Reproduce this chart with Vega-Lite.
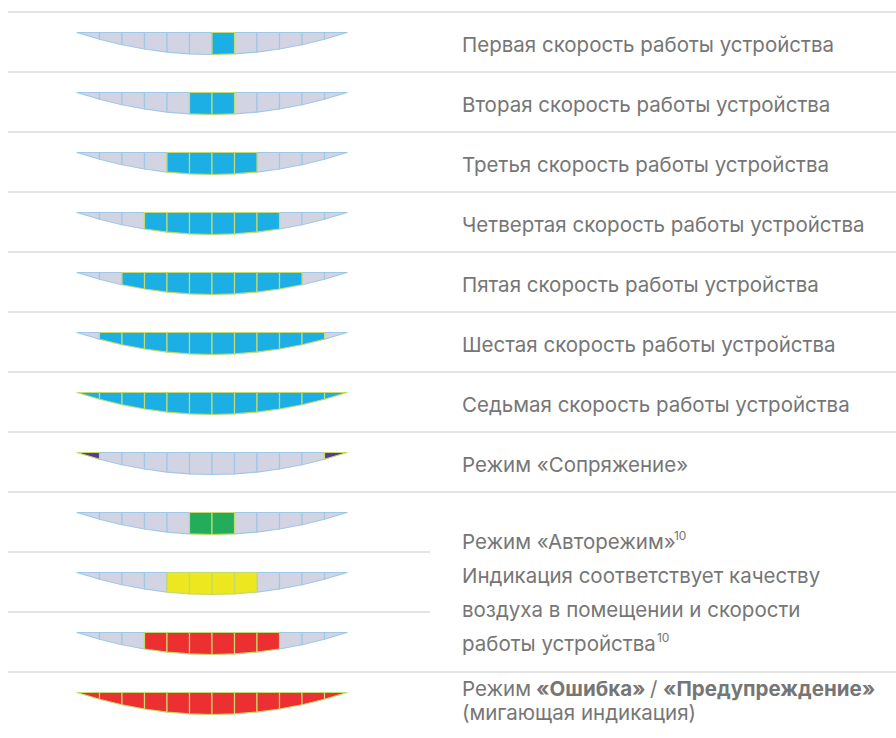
{
"$schema": "https://vega.github.io/schema/vega-lite/v6.json",
"padding": {"left": 0, "top": 11, "right": 0, "bottom": 0},
"background": "white",
"datasets": {
"cells": [
{"r":0,"s":0,"st":"off"},{"r":0,"s":1,"st":"off"},{"r":0,"s":2,"st":"off"},{"r":0,"s":3,"st":"off"},{"r":0,"s":4,"st":"off"},{"r":0,"s":5,"st":"off"},{"r":0,"s":6,"st":"blue"},{"r":0,"s":7,"st":"off"},{"r":0,"s":8,"st":"off"},{"r":0,"s":9,"st":"off"},{"r":0,"s":10,"st":"off"},{"r":0,"s":11,"st":"off"},
{"r":1,"s":0,"st":"off"},{"r":1,"s":1,"st":"off"},{"r":1,"s":2,"st":"off"},{"r":1,"s":3,"st":"off"},{"r":1,"s":4,"st":"off"},{"r":1,"s":5,"st":"blue"},{"r":1,"s":6,"st":"blue"},{"r":1,"s":7,"st":"off"},{"r":1,"s":8,"st":"off"},{"r":1,"s":9,"st":"off"},{"r":1,"s":10,"st":"off"},{"r":1,"s":11,"st":"off"},
{"r":2,"s":0,"st":"off"},{"r":2,"s":1,"st":"off"},{"r":2,"s":2,"st":"off"},{"r":2,"s":3,"st":"off"},{"r":2,"s":4,"st":"blue"},{"r":2,"s":5,"st":"blue"},{"r":2,"s":6,"st":"blue"},{"r":2,"s":7,"st":"blue"},{"r":2,"s":8,"st":"off"},{"r":2,"s":9,"st":"off"},{"r":2,"s":10,"st":"off"},{"r":2,"s":11,"st":"off"},
{"r":3,"s":0,"st":"off"},{"r":3,"s":1,"st":"off"},{"r":3,"s":2,"st":"off"},{"r":3,"s":3,"st":"blue"},{"r":3,"s":4,"st":"blue"},{"r":3,"s":5,"st":"blue"},{"r":3,"s":6,"st":"blue"},{"r":3,"s":7,"st":"blue"},{"r":3,"s":8,"st":"blue"},{"r":3,"s":9,"st":"off"},{"r":3,"s":10,"st":"off"},{"r":3,"s":11,"st":"off"},
{"r":4,"s":0,"st":"off"},{"r":4,"s":1,"st":"off"},{"r":4,"s":2,"st":"blue"},{"r":4,"s":3,"st":"blue"},{"r":4,"s":4,"st":"blue"},{"r":4,"s":5,"st":"blue"},{"r":4,"s":6,"st":"blue"},{"r":4,"s":7,"st":"blue"},{"r":4,"s":8,"st":"blue"},{"r":4,"s":9,"st":"blue"},{"r":4,"s":10,"st":"off"},{"r":4,"s":11,"st":"off"},
{"r":5,"s":0,"st":"off"},{"r":5,"s":1,"st":"blue"},{"r":5,"s":2,"st":"blue"},{"r":5,"s":3,"st":"blue"},{"r":5,"s":4,"st":"blue"},{"r":5,"s":5,"st":"blue"},{"r":5,"s":6,"st":"blue"},{"r":5,"s":7,"st":"blue"},{"r":5,"s":8,"st":"blue"},{"r":5,"s":9,"st":"blue"},{"r":5,"s":10,"st":"blue"},{"r":5,"s":11,"st":"off"},
{"r":6,"s":0,"st":"blue"},{"r":6,"s":1,"st":"blue"},{"r":6,"s":2,"st":"blue"},{"r":6,"s":3,"st":"blue"},{"r":6,"s":4,"st":"blue"},{"r":6,"s":5,"st":"blue"},{"r":6,"s":6,"st":"blue"},{"r":6,"s":7,"st":"blue"},{"r":6,"s":8,"st":"blue"},{"r":6,"s":9,"st":"blue"},{"r":6,"s":10,"st":"blue"},{"r":6,"s":11,"st":"blue"},
{"r":7,"s":0,"st":"purple"},{"r":7,"s":1,"st":"off"},{"r":7,"s":2,"st":"off"},{"r":7,"s":3,"st":"off"},{"r":7,"s":4,"st":"off"},{"r":7,"s":5,"st":"off"},{"r":7,"s":6,"st":"off"},{"r":7,"s":7,"st":"off"},{"r":7,"s":8,"st":"off"},{"r":7,"s":9,"st":"off"},{"r":7,"s":10,"st":"off"},{"r":7,"s":11,"st":"purple"},
{"r":8,"s":0,"st":"off"},{"r":8,"s":1,"st":"off"},{"r":8,"s":2,"st":"off"},{"r":8,"s":3,"st":"off"},{"r":8,"s":4,"st":"off"},{"r":8,"s":5,"st":"green"},{"r":8,"s":6,"st":"green"},{"r":8,"s":7,"st":"off"},{"r":8,"s":8,"st":"off"},{"r":8,"s":9,"st":"off"},{"r":8,"s":10,"st":"off"},{"r":8,"s":11,"st":"off"},
{"r":9,"s":0,"st":"off"},{"r":9,"s":1,"st":"off"},{"r":9,"s":2,"st":"off"},{"r":9,"s":3,"st":"off"},{"r":9,"s":4,"st":"yellow"},{"r":9,"s":5,"st":"yellow"},{"r":9,"s":6,"st":"yellow"},{"r":9,"s":7,"st":"yellow"},{"r":9,"s":8,"st":"off"},{"r":9,"s":9,"st":"off"},{"r":9,"s":10,"st":"off"},{"r":9,"s":11,"st":"off"},
{"r":10,"s":0,"st":"off"},{"r":10,"s":1,"st":"off"},{"r":10,"s":2,"st":"off"},{"r":10,"s":3,"st":"red"},{"r":10,"s":4,"st":"red"},{"r":10,"s":5,"st":"red"},{"r":10,"s":6,"st":"red"},{"r":10,"s":7,"st":"red"},{"r":10,"s":8,"st":"red"},{"r":10,"s":9,"st":"off"},{"r":10,"s":10,"st":"off"},{"r":10,"s":11,"st":"off"},
{"r":11,"s":0,"st":"red"},{"r":11,"s":1,"st":"red"},{"r":11,"s":2,"st":"red"},{"r":11,"s":3,"st":"red"},{"r":11,"s":4,"st":"red"},{"r":11,"s":5,"st":"red"},{"r":11,"s":6,"st":"red"},{"r":11,"s":7,"st":"red"},{"r":11,"s":8,"st":"red"},{"r":11,"s":9,"st":"red"},{"r":11,"s":10,"st":"red"},{"r":11,"s":11,"st":"red"}
],
"segs": [
{"s":0,"bL":0,"bR":1},{"s":1,"bL":1,"bR":2},{"s":2,"bL":2,"bR":3},{"s":3,"bL":3,"bR":4},{"s":4,"bL":4,"bR":5},{"s":5,"bL":5,"bR":6},{"s":6,"bL":6,"bR":7},{"s":7,"bL":7,"bR":8},{"s":8,"bL":8,"bR":9},{"s":9,"bL":9,"bR":10},{"s":10,"bL":10,"bR":11},{"s":11,"bL":11,"bR":12}
],
"profile": [
{"b":0,"d":0},{"b":1,"d":0.306},{"b":2,"d":0.556},{"b":3,"d":0.75},{"b":4,"d":0.889},{"b":5,"d":0.972},{"b":6,"d":1},{"b":7,"d":0.972},{"b":8,"d":0.889},{"b":9,"d":0.75},{"b":10,"d":0.556},{"b":11,"d":0.306},{"b":12,"d":0}
],
"labels": [
{"r":0,"label":"Первая скорость работы устройства"},
{"r":1,"label":"Вторая скорость работы устройства"},
{"r":2,"label":"Третья скорость работы устройства"},
{"r":3,"label":"Четвертая скорость работы устройства"},
{"r":4,"label":"Пятая скорость работы устройства"},
{"r":5,"label":"Шестая скорость работы устройства"},
{"r":6,"label":"Седьмая скорость работы устройства"},
{"r":7,"label":"Режим «Сопряжение»"},
{"r":8,"label":["Режим «Авторежим»","Индикация соответствует качеству","воздуха в помещении и скорости","работы устройства"],"sup":"10"},
{"r":9,"label":""},
{"r":10,"label":""},
{"r":11,"label":"Режим","b1":"«Ошибка»","sep":"/","b2":"«Предупреждение»","note":"(мигающая индикация)"}
]
},
"data": {"name": "cells"},
"transform": [
{"lookup": "s", "from": {"data": {"name": "segs"}, "key": "s", "fields": ["bL", "bR"]}},
{"fold": ["bL", "bR"], "as": ["side", "b"]},
{"lookup": "b", "from": {"data": {"name": "profile"}, "key": "b", "fields": ["d"]}},
{"lookup": "r", "from": {"data": {"name": "labels"}, "key": "r", "fields": ["label", "sup", "b1", "sep", "b2", "note"]}}
],
"facet": {"row": {"field": "r", "type": "ordinal", "title": null, "header": {"labels": false, "labelPadding": 0, "titlePadding": 0}}},
"spacing": 0,
"bounds": "flush",
"spec": {
"width": 896,
"height": 60,
"layer": [
{
"transform": [{"filter": "datum.s == 0 && datum.side == 'bL'"}],
"mark": {"type": "rule", "color": "#c9c9c9", "strokeWidth": 1.2},
"encoding": {
"x": {"datum": -3.067, "scale": {"domain": [-3.4222, 36.4], "nice": false, "zero": false}, "axis": null},
"x2": {"datum": 15.69},
"y": {"datum": -0.9318, "scale": {"domain": [-0.9318, 1.7955], "reverse": true, "nice": false, "zero": false}, "axis": null}
}
},
{
"transform": [{"filter": "datum.s == 0 && datum.side == 'bL' && datum.r != 9 && datum.r != 10"}],
"mark": {"type": "rule", "color": "#c9c9c9", "strokeWidth": 1.2},
"encoding": {
"x": {"datum": 15.69, "scale": {"domain": [-3.4222, 36.4], "nice": false, "zero": false}, "axis": null},
"x2": {"datum": 36.4},
"y": {"datum": -0.9318, "scale": {"domain": [-0.9318, 1.7955], "reverse": true, "nice": false, "zero": false}, "axis": null}
}
},
{
"transform": [{"filter": "datum.st == 'off'"}],
"mark": {"type": "area", "opacity": 1, "strokeWidth": 1.2, "strokeJoin": "round", "interpolate": "linear"},
"encoding": {
"x": {"field": "b", "type": "quantitative", "scale": {"domain": [-3.4222, 36.4], "nice": false, "zero": false}, "axis": null},
"y": {"field": "d", "type": "quantitative", "stack": null, "scale": {"domain": [-0.9318, 1.7955], "reverse": true, "nice": false, "zero": false}, "axis": null},
"y2": {"datum": 0},
"detail": {"field": "s"},
"fill": {"field": "st", "type": "nominal", "legend": null, "scale": {"domain": ["off", "blue", "green", "yellow", "red", "purple"], "range": ["#d3d4e3", "#1bafe5", "#23ad5b", "#ece71f", "#ec2f30", "#5a3a98"]}},
"stroke": {"field": "st", "type": "nominal", "legend": null, "scale": {"domain": ["off", "blue", "green", "yellow", "red", "purple"], "range": ["#9fc7e6", "#c2da6e", "#c2da6e", "#c2da6e", "#c2da6e", "#c2da6e"]}}
}
},
{
"transform": [{"filter": "datum.st != 'off'"}],
"mark": {"type": "area", "opacity": 1, "strokeWidth": 1.2, "strokeJoin": "round", "interpolate": "linear"},
"encoding": {
"x": {"field": "b", "type": "quantitative", "scale": {"domain": [-3.4222, 36.4], "nice": false, "zero": false}, "axis": null},
"y": {"field": "d", "type": "quantitative", "stack": null, "scale": {"domain": [-0.9318, 1.7955], "reverse": true, "nice": false, "zero": false}, "axis": null},
"y2": {"datum": 0},
"detail": {"field": "s"},
"fill": {"field": "st", "type": "nominal", "legend": null, "scale": {"domain": ["off", "blue", "green", "yellow", "red", "purple"], "range": ["#d3d4e3", "#1bafe5", "#23ad5b", "#ece71f", "#ec2f30", "#5a3a98"]}},
"stroke": {"field": "st", "type": "nominal", "legend": null, "scale": {"domain": ["off", "blue", "green", "yellow", "red", "purple"], "range": ["#9fc7e6", "#c2da6e", "#c2da6e", "#c2da6e", "#c2da6e", "#c2da6e"]}}
}
},
{
"transform": [{"filter": "datum.s == 0 && datum.side == 'bL' && datum.r <= 7"}],
"mark": {"type": "text", "align": "left", "baseline": "alphabetic", "font": "Inter", "fontSize": 20.5, "color": "#767676"},
"encoding": {
"x": {"datum": 17.11, "scale": {"domain": [-3.4222, 36.4], "nice": false, "zero": false}, "axis": null},
"y": {"datum": 0.886, "scale": {"domain": [-0.9318, 1.7955], "reverse": true, "nice": false, "zero": false}, "axis": null},
"text": {"field": "label"}
}
},
{
"transform": [{"filter": "datum.s == 0 && datum.side == 'bL' && datum.r == 8"}],
"mark": {"type": "text", "align": "left", "baseline": "alphabetic", "font": "Inter", "fontSize": 20.5, "lineHeight": 34, "color": "#767676"},
"encoding": {
"x": {"datum": 17.11, "scale": {"domain": [-3.4222, 36.4], "nice": false, "zero": false}, "axis": null},
"y": {"datum": 1.659, "scale": {"domain": [-0.9318, 1.7955], "reverse": true, "nice": false, "zero": false}, "axis": null},
"text": {"field": "label"}
}
},
{
"transform": [{"filter": "datum.s == 0 && datum.side == 'bL' && datum.r == 8"}],
"mark": {"type": "text", "align": "left", "baseline": "alphabetic", "font": "Inter", "fontSize": 12, "color": "#767676", "dx": 212, "dy": -9},
"encoding": {
"x": {"datum": 17.11, "scale": {"domain": [-3.4222, 36.4], "nice": false, "zero": false}, "axis": null},
"y": {"datum": 1.659, "scale": {"domain": [-0.9318, 1.7955], "reverse": true, "nice": false, "zero": false}, "axis": null},
"text": {"field": "sup"}
}
},
{
"transform": [{"filter": "datum.s == 0 && datum.side == 'bL' && datum.r == 8"}],
"mark": {"type": "text", "align": "left", "baseline": "alphabetic", "font": "Inter", "fontSize": 12, "color": "#767676", "dx": 195, "dy": 93},
"encoding": {
"x": {"datum": 17.11, "scale": {"domain": [-3.4222, 36.4], "nice": false, "zero": false}, "axis": null},
"y": {"datum": 1.659, "scale": {"domain": [-0.9318, 1.7955], "reverse": true, "nice": false, "zero": false}, "axis": null},
"text": {"field": "sup"}
}
},
{
"transform": [{"filter": "datum.s == 0 && datum.side == 'bL' && datum.r == 11"}],
"mark": {"type": "text", "align": "left", "baseline": "alphabetic", "font": "Inter", "fontSize": 20.5, "color": "#767676", "dy": -1},
"encoding": {
"x": {"datum": 17.11, "scale": {"domain": [-3.4222, 36.4], "nice": false, "zero": false}, "axis": null},
"y": {"datum": 0.2045, "scale": {"domain": [-0.9318, 1.7955], "reverse": true, "nice": false, "zero": false}, "axis": null},
"text": {"field": "label"}
}
},
{
"transform": [{"filter": "datum.s == 0 && datum.side == 'bL' && datum.r == 11"}],
"mark": {"type": "text", "align": "left", "baseline": "alphabetic", "font": "Inter", "fontSize": 20.5, "color": "#767676", "dy": 23},
"encoding": {
"x": {"datum": 17.11, "scale": {"domain": [-3.4222, 36.4], "nice": false, "zero": false}, "axis": null},
"y": {"datum": 0.2045, "scale": {"domain": [-0.9318, 1.7955], "reverse": true, "nice": false, "zero": false}, "axis": null},
"text": {"field": "note"}
}
},
{
"transform": [{"filter": "datum.s == 0 && datum.side == 'bL' && datum.r == 11"}],
"mark": {"type": "text", "align": "left", "baseline": "alphabetic", "font": "Inter", "fontSize": 20.5, "fontWeight": "bold", "color": "#767676", "dx": 74, "dy": -1},
"encoding": {
"x": {"datum": 17.11, "scale": {"domain": [-3.4222, 36.4], "nice": false, "zero": false}, "axis": null},
"y": {"datum": 0.2045, "scale": {"domain": [-0.9318, 1.7955], "reverse": true, "nice": false, "zero": false}, "axis": null},
"text": {"field": "b1"}
}
},
{
"transform": [{"filter": "datum.s == 0 && datum.side == 'bL' && datum.r == 11"}],
"mark": {"type": "text", "align": "left", "baseline": "alphabetic", "font": "Inter", "fontSize": 20.5, "color": "#767676", "dx": 188, "dy": -1},
"encoding": {
"x": {"datum": 17.11, "scale": {"domain": [-3.4222, 36.4], "nice": false, "zero": false}, "axis": null},
"y": {"datum": 0.2045, "scale": {"domain": [-0.9318, 1.7955], "reverse": true, "nice": false, "zero": false}, "axis": null},
"text": {"field": "sep"}
}
},
{
"transform": [{"filter": "datum.s == 0 && datum.side == 'bL' && datum.r == 11"}],
"mark": {"type": "text", "align": "left", "baseline": "alphabetic", "font": "Inter", "fontSize": 20.5, "fontWeight": "bold", "color": "#767676", "dx": 201, "dy": -1},
"encoding": {
"x": {"datum": 17.11, "scale": {"domain": [-3.4222, 36.4], "nice": false, "zero": false}, "axis": null},
"y": {"datum": 0.2045, "scale": {"domain": [-0.9318, 1.7955], "reverse": true, "nice": false, "zero": false}, "axis": null},
"text": {"field": "b2"}
}
}
]
},
"config": {"view": {"stroke": null}}
}
